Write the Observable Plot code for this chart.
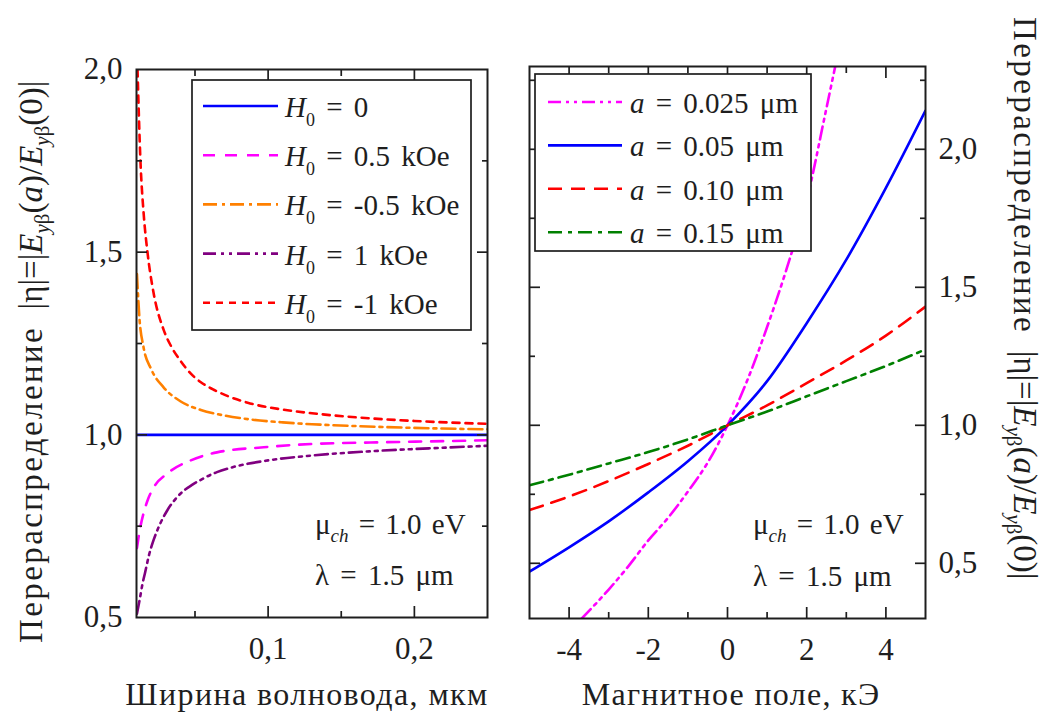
<!DOCTYPE html>
<html>
<head>
<meta charset="utf-8">
<script src="https://cdn.jsdelivr.net/npm/d3@7"></script>
<script src="https://cdn.jsdelivr.net/npm/@observablehq/plot@0.6"></script>
<style>
  body { margin: 0; background: #fff; font-family: "Liberation Serif", serif; }
  #fig { display: flex; width: 1043px; height: 713px; background: #fff; }
  #fig svg { flex: none; display: block; }
  #fig text, #fig tspan { font-family: "Liberation Serif", serif !important; }
</style>
</head>
<body>
<div id="fig"></div>
<script>
// ---- Left panel: |η| versus waveguide width a (μm), for several bias fields H0 ----
const widthH0 = [0.01, 0.25];
const etaH0 = [1.0, 1.0];

const widthPos05 = [0.0103, 0.0125, 0.0148, 0.018, 0.0216, 0.031, 0.047, 0.065, 0.097, 0.13, 0.17, 0.21, 0.25];
const etaPos05 = [0.69, 0.745, 0.785, 0.825, 0.855, 0.894, 0.93, 0.952, 0.966, 0.975, 0.979, 0.982, 0.985];

const widthNeg05 = [0.0103, 0.012, 0.0148, 0.02, 0.0285, 0.04, 0.054, 0.07, 0.086, 0.11, 0.13, 0.16, 0.2, 0.25];
const etaNeg05 = [1.44, 1.32, 1.24, 1.18, 1.13, 1.092, 1.068, 1.053, 1.043, 1.034, 1.029, 1.024, 1.019, 1.015];

const widthPos1 = [0.0103, 0.012, 0.014, 0.016, 0.0185, 0.0216, 0.026, 0.031, 0.037, 0.042, 0.048, 0.054, 0.065, 0.0744, 0.1, 0.129, 0.17, 0.21, 0.25];
const etaPos1 = [0.51, 0.545, 0.59, 0.625, 0.67, 0.711, 0.755, 0.793, 0.826, 0.846, 0.863, 0.877, 0.898, 0.91, 0.93, 0.943, 0.955, 0.963, 0.97];

const widthNeg1 = [0.0107, 0.0127, 0.015, 0.0175, 0.0216, 0.0285, 0.034, 0.04, 0.047, 0.054, 0.062, 0.07, 0.086, 0.11, 0.13, 0.16, 0.2, 0.25];
const etaNeg1 = [2.0, 1.75, 1.6, 1.5, 1.39, 1.288, 1.24, 1.203, 1.168, 1.144, 1.125, 1.11, 1.088, 1.069, 1.059, 1.048, 1.038, 1.03];

const fieldLegend = ["0", "0.5 kOe", "-0.5 kOe", "1 kOe", "-1 kOe"];
const fieldColors = ["#0000ff", "#ff00ff", "#ff8000", "#800080", "#ff0000"];
const fieldDashes = [null, "12,10", "14,5,3,5", "13,5,3,5,3,5", "7,6"];

// ---- Right panel: |η| versus magnetic field H0 (kOe), for several widths a ----
const fieldA0025 = [-3.68, -3, -2.5, -2, -1.5, -1, -0.5, 0, 0.5, 1, 1.5, 2, 2.5, 2.72];
const etaA0025 = [0.30, 0.405, 0.49, 0.583, 0.665, 0.76, 0.865, 1.0, 1.163, 1.356, 1.57, 1.815, 2.15, 2.30];

const fieldKOe = [-5, -4, -3, -2, -1, 0, 1, 2, 3, 4, 5];
const etaA005 = [0.47, 0.558, 0.652, 0.757, 0.87, 1.0, 1.16, 1.37, 1.6, 1.86, 2.14];
const etaA010 = [0.693, 0.742, 0.798, 0.86, 0.926, 1.0, 1.072, 1.153, 1.235, 1.325, 1.43];
const etaA015 = [0.783, 0.821, 0.862, 0.903, 0.949, 1.0, 1.05, 1.105, 1.16, 1.215, 1.275];

const widthLegend = ["0.025 μm", "0.05 μm", "0.10 μm", "0.15 μm"];
const widthColors = ["#ff00ff", "#0000ff", "#ff0000", "#008000"];
const widthDashes = ["13,5,3,5,3,5", null, "14,9", "14,6,4,6"];

// ---- Ticks ----
const widthMajorTicks = [0.1, 0.2];
const widthMinorTicks = [0.05, 0.15];
const widthTickLabels = ["0,1", "0,2"];
const etaLeftMajorTicks = [1.0, 1.5];
const etaLeftMinorTicks = [0.75, 1.25, 1.75];
const etaLeftLabelTicks = [0.5, 1.0, 1.5, 2.0];
const etaLeftTickLabels = ["0,5", "1,0", "1,5", "2,0"];

const fieldMajorTicks = [-4, -2, 0, 2, 4];
const fieldMinorTicks = [-3, -1, 1, 3];
const fieldTickLabels = ["-4", "-2", "0", "2", "4"];
const etaRightMajorTicks = [0.5, 1.0, 1.5, 2.0];
const etaRightMinorTicks = [0.75, 1.25, 1.75, 2.25];
const etaRightTickLabels = ["0,5", "1,0", "1,5", "2,0"];

const INK = "#1e1e1e";
const FONT = "Liberation Serif";

const pts = (xs, ys) => xs.map((x, i) => ({x, y: ys[i]}));
const labelOf = (vals, labels) => { const m = new Map(vals.map((v, i) => [v, labels[i]])); return d => m.get(d); };

// inward tick marks on all four sides of the frame
function frameTicks(xMajor, xMinor, yMajor, yMinor) {
  const common = {fill: "none", stroke: INK, strokeWidth: 1.7, label: null};
  const out = [];
  for (const anchor of ["top", "bottom"]) {
    out.push(Plot.axisX(xMajor, {...common, anchor, tickSize: -11}));
    out.push(Plot.axisX(xMinor, {...common, anchor, tickSize: -6}));
  }
  for (const anchor of ["left", "right"]) {
    out.push(Plot.axisY(yMajor, {...common, anchor, tickSize: -11}));
    out.push(Plot.axisY(yMinor, {...common, anchor, tickSize: -6}));
  }
  return out;
}

function series(xs, ys, color, dash) {
  return Plot.line(pts(xs, ys), {
    x: "x", y: "y", stroke: color, strokeWidth: 2.6,
    strokeDasharray: dash ?? undefined, curve: "monotone-x", clip: true
  });
}

// rich text with italic parts, subscripts and optional extra spacing
function rich(g, x, y, parts, {size, anchor = "start", rotate = 0, subSize, subShift, wordSpacing = 0, letterSpacing = 0}) {
  const t = g.append("text")
    .attr("transform", `translate(${x},${y}) rotate(${rotate})`)
    .attr("font-size", size)
    .attr("font-family", FONT)
    .attr("text-anchor", anchor).attr("fill", INK);
  if (wordSpacing) t.style("word-spacing", `${wordSpacing}px`);
  if (letterSpacing) t.style("letter-spacing", `${letterSpacing}px`);
  let shift = 0;
  for (const p of parts) {
    const target = p.sub ? subShift : 0;
    const ts = t.append("tspan").text(p.t);
    if (target !== shift) ts.attr("dy", target - shift);
    shift = target;
    if (p.sub) ts.attr("font-size", subSize);
    if (p.it) ts.attr("font-style", "italic");
    if (p.ls) ts.style("letter-spacing", `${p.ls}px`);
  }
  return t;
}

const etaTitle = [
  {t: "Перераспределение", ls: 2.4}, {t: "\u00a0\u00a0|η|=|"}, {t: "E", it: true},
  {t: "y", it: true, sub: true}, {t: "β", sub: true},
  {t: "("}, {t: "a", it: true}, {t: ")/"}, {t: "E", it: true},
  {t: "y", it: true, sub: true}, {t: "β", sub: true}, {t: "(0)|"}
];
const paramLines = [
  [{t: "μ"}, {t: "ch", it: true, sub: true}, {t: " = 1.0 eV"}],
  [{t: "λ = 1.5 μm"}]
];

function legend(g, box, rows, labels, colors, dashes, symbol, withSub) {
  g.append("rect").attr("x", box.x).attr("y", box.y).attr("width", box.w).attr("height", box.h)
    .attr("fill", "#fff").attr("stroke", INK).attr("stroke-width", 1.7);
  labels.forEach((lab, i) => {
    const y = rows.y0 + i * rows.dy;
    const line = g.append("line").attr("x1", rows.x1).attr("x2", rows.x2).attr("y1", y).attr("y2", y)
      .attr("stroke", colors[i]).attr("stroke-width", 2.6);
    if (dashes[i]) line.attr("stroke-dasharray", dashes[i]);
    const parts = [{t: symbol, it: true}];
    if (withSub) parts.push({t: "0", sub: true});
    parts.push({t: " = " + lab});
    rich(g, rows.tx, y + 11, parts, {size: 29, subSize: 18, subShift: 9, wordSpacing: 4});
  });
}

const fig = document.getElementById("fig");

// ---------- left panel ----------
const left = Plot.plot({
  width: 500, height: 713,
  marginLeft: 136, marginRight: 13, marginTop: 69, marginBottom: 96,
  style: {fontFamily: FONT, fontSize: "31px", color: INK, background: "#fff", maxWidth: "none"},
  x: {domain: [0.01, 0.25]},
  y: {domain: [0.5, 2.0]},
  marks: [
    series(widthH0, etaH0, fieldColors[0], fieldDashes[0]),
    series(widthPos05, etaPos05, fieldColors[1], fieldDashes[1]),
    series(widthNeg05, etaNeg05, fieldColors[2], fieldDashes[2]),
    series(widthPos1, etaPos1, fieldColors[3], fieldDashes[3]),
    series(widthNeg1, etaNeg1, fieldColors[4], fieldDashes[4]),
    ...frameTicks(widthMajorTicks, widthMinorTicks, etaLeftMajorTicks, etaLeftMinorTicks),
    Plot.axisX(widthMajorTicks, {anchor: "bottom", tickSize: 0, tickPadding: 19, tickFormat: labelOf(widthMajorTicks, widthTickLabels), label: null, fill: INK, fontFamily: FONT}),
    Plot.axisY(etaLeftLabelTicks, {anchor: "left", tickSize: 0, tickPadding: 14, tickFormat: labelOf(etaLeftLabelTicks, etaLeftTickLabels), label: null, fill: INK, fontFamily: FONT}),
    Plot.frame({stroke: INK, strokeWidth: 2})
  ]
});
fig.appendChild(left);

{
  const g = d3.select(left).append("g");
  legend(g, {x: 192, y: 80, w: 279, h: 250}, {y0: 106, dy: 49.2, x1: 203, x2: 278, tx: 285},
    fieldLegend, fieldColors, fieldDashes, "H", true);
  rich(g, 315, 534, paramLines[0], {size: 29, subSize: 19, subShift: 8, wordSpacing: 3});
  rich(g, 315, 585, paramLines[1], {size: 29, wordSpacing: 4});
  rich(g, 307, 705, [{t: "Ширина волновода, мкм"}], {size: 32, anchor: "middle", letterSpacing: 1.4});
  rich(g, 42, 643, etaTitle, {size: 33, rotate: -90, subSize: 21, subShift: 7});
}

// ---------- right panel ----------
const right = Plot.plot({
  width: 543, height: 713,
  marginLeft: 29, marginRight: 118, marginTop: 66, marginBottom: 95,
  style: {fontFamily: FONT, fontSize: "31px", color: INK, background: "#fff", maxWidth: "none"},
  x: {domain: [-5, 5]},
  y: {domain: [0.3, 2.3]},
  marks: [
    series(fieldA0025, etaA0025, widthColors[0], widthDashes[0]),
    series(fieldKOe, etaA005, widthColors[1], widthDashes[1]),
    series(fieldKOe, etaA010, widthColors[2], widthDashes[2]),
    series(fieldKOe, etaA015, widthColors[3], widthDashes[3]),
    ...frameTicks(fieldMajorTicks, fieldMinorTicks, etaRightMajorTicks, etaRightMinorTicks),
    Plot.axisX(fieldMajorTicks, {anchor: "bottom", tickSize: 0, tickPadding: 19, tickFormat: labelOf(fieldMajorTicks, fieldTickLabels), label: null, fill: INK, fontFamily: FONT}),
    Plot.axisY(etaRightMajorTicks, {anchor: "right", tickSize: 0, tickPadding: 13, tickFormat: labelOf(etaRightMajorTicks, etaRightTickLabels), label: null, fill: INK, fontFamily: FONT}),
    Plot.frame({stroke: INK, strokeWidth: 2})
  ]
});
fig.appendChild(right);

{
  const g = d3.select(right).append("g");
  legend(g, {x: 35, y: 74, w: 276, h: 177}, {y0: 102, dy: 43.4, x1: 48, x2: 122, tx: 130},
    widthLegend, widthColors, widthDashes, "a", false);
  rich(g, 253, 534, paramLines[0], {size: 29, subSize: 19, subShift: 8, wordSpacing: 3});
  rich(g, 253, 586, paramLines[1], {size: 29, wordSpacing: 4});
  rich(g, 231, 705, [{t: "Магнитное поле, кЭ"}], {size: 32, anchor: "middle", letterSpacing: 1.3});
  rich(g, 514, 17, etaTitle, {size: 33, rotate: 90, subSize: 21, subShift: 7});
}
</script>
</body>
</html>
